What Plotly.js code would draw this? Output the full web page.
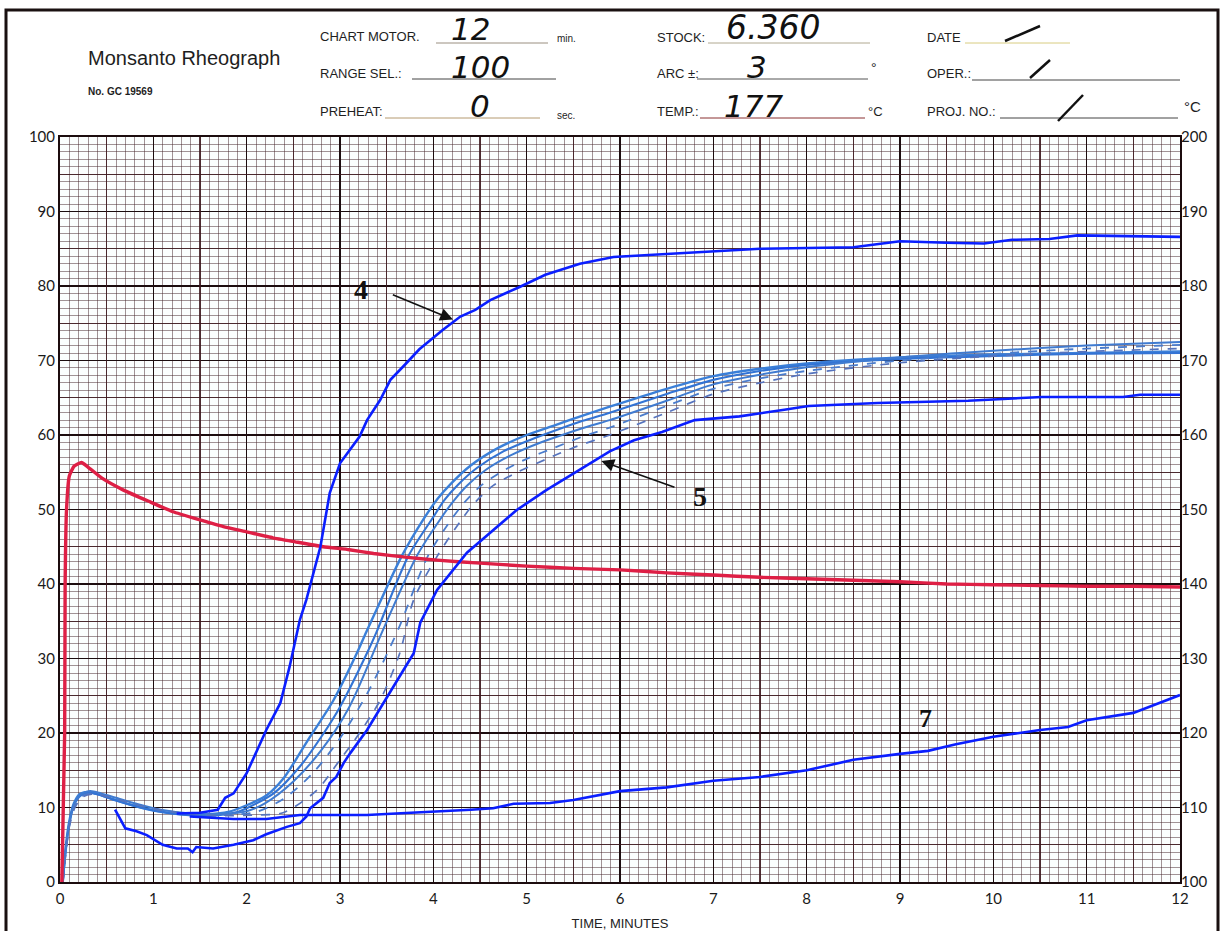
<!DOCTYPE html>
<html><head><meta charset="utf-8">
<script src="https://cdn.plot.ly/plotly-3.0.1.min.js"></script>
<style>html,body{margin:0;padding:0;background:#fff;}#chart{width:1226px;height:931px;}</style>
</head><body><div id="chart"></div>
<script>
// ---- data (minutes, torque units) ----
const redT = [0.02,0.05,0.055,0.07,0.1,0.15,0.23,0.3,0.45,0.68,0.95,1.21,1.5,1.75,2.0,2.28,2.55,2.82,3.1,3.36,3.7,4.04,4.5,5,5.5,6,6.5,7,7.5,8,8.5,9,9.5,10,10.5,11,11.5,12];
const redV = [0,20,40,50,54.5,55.8,56.3,55.7,54.2,52.6,51.1,49.7,48.6,47.7,47.0,46.2,45.6,45.0,44.6,44.1,43.6,43.2,42.8,42.4,42.1,41.9,41.5,41.2,40.9,40.7,40.5,40.3,40.0,39.9,39.8,39.7,39.7,39.6];

const c4T = [1.25,1.5,1.69,1.77,1.86,2.0,2.21,2.36,2.46,2.57,2.64,2.79,2.89,3.0,3.21,3.29,3.43,3.54,3.7,3.85,4.1,4.29,4.45,4.61,4.93,5.2,5.57,5.93,6.64,7.5,8.5,9.0,9.5,9.9,10.2,10.6,10.9,11.5,12];
const c4V = [9.2,9.3,9.7,11.3,11.9,14.6,20.4,24,28.9,35.2,37.9,45,52.2,56.2,59.8,62,64.7,67.4,69.5,71.5,74.1,75.9,76.8,78.1,79.9,81.5,83.0,83.9,84.4,85.0,85.2,86.0,85.8,85.7,86.2,86.3,86.8,86.7,86.6];

const c5T = [0.59,0.7,0.82,0.93,1.1,1.25,1.37,1.42,1.46,1.64,1.86,2.07,2.21,2.43,2.57,2.64,2.68,2.82,2.89,2.96,3.04,3.11,3.29,3.57,3.79,3.86,4.04,4.36,4.64,4.89,5.21,5.54,5.89,6.15,6.45,6.8,7.28,7.76,8.02,8.76,9.73,10.52,11.39,11.57,12];
const c5V = [9.7,7.2,6.8,6.3,5.0,4.5,4.5,4.0,4.7,4.5,5.0,5.6,6.4,7.4,7.9,8.8,9.9,11.3,13.3,14.1,16.0,17.3,20.4,26.2,30.7,34.8,39.2,44.2,47.2,49.9,52.6,55.1,57.8,59.3,60.4,62,62.5,63.4,63.9,64.3,64.6,65.1,65.1,65.4,65.4];

const c7T = [1.39,1.6,1.86,2.21,2.57,2.93,3.29,3.6,4.0,4.4,4.64,4.86,5.25,5.5,6.0,6.5,7.0,7.5,8.0,8.5,9.0,9.3,9.6,10.0,10.5,10.8,11.0,11.5,12];
const c7V = [8.8,8.6,8.45,8.45,9.0,9.0,9.0,9.2,9.4,9.7,9.9,10.5,10.6,11.0,12.2,12.7,13.6,14.1,15.0,16.4,17.2,17.6,18.5,19.5,20.4,20.8,21.7,22.7,25.1];

// repeat runs (light blue bundle)
const aT = [0.03,0.06,0.1,0.15,0.21,0.3,0.4,0.55,0.75,1.0,1.3,1.6,1.8,2.0,2.21,2.4,2.57,2.68,2.93,3.18,3.29,3.39,3.66,3.9,4.05,4.2,4.4,4.7,5.0,5.3,5.6,5.89,6.5,7,7.5,8,9,10,11,12];
const aV = [0,4.5,8.2,10.6,11.8,12.1,11.8,11.2,10.4,9.6,9.1,9.1,9.4,10.3,11.6,14,17.3,19.5,24.4,30.7,33.8,36.5,43.7,48.8,51.5,53.6,55.9,58.3,60.0,61.3,62.6,63.8,66.2,67.9,68.9,69.6,70.4,70.8,71.0,71.2];
const bT = [0.03,0.06,0.1,0.15,0.22,0.32,0.42,0.58,0.8,1.05,1.35,1.65,1.9,2.0,2.3,2.57,2.8,3.0,3.3,3.39,3.73,4.0,4.12,4.27,4.47,4.75,5.05,5.35,5.6,5.89,6.5,7,7.5,8,9,10,11,12];
const bV = [0,4,7.8,10.3,11.6,12.0,11.7,11.0,10.2,9.5,9.0,8.9,9.4,9.9,12,15.5,19.5,23.5,31,33.5,43.7,49.0,51.3,53.4,55.6,57.8,59.4,60.8,61.9,63.0,65.5,67.4,68.6,69.4,70.2,70.6,70.9,71.0];
const cT = [0.03,0.06,0.1,0.15,0.22,0.32,0.44,0.6,0.82,1.08,1.4,1.7,2.0,2.2,2.5,2.8,3.1,3.46,3.82,4.08,4.22,4.36,4.56,4.85,5.15,5.45,5.7,5.89,6.5,7,7.5,8,9,10,11,12];
const cV = [0,4.2,7.9,10.4,11.7,12.2,11.9,11.3,10.5,9.7,9.2,9.1,9.5,10.6,13.5,17.7,23.5,33.8,43.7,48.8,51.2,53.2,55.3,57.4,59.0,60.3,61.3,62.0,64.6,66.8,68.1,69.1,70.4,71.3,72.0,72.5];
const dT = [0.03,0.06,0.1,0.15,0.23,0.33,0.45,0.62,0.85,1.1,1.45,1.8,2.1,2.4,2.7,3.0,3.3,3.62,3.94,4.2,4.35,4.52,4.75,5.0,5.3,5.6,5.89,6.5,7,7.5,8,9,10,11,12];
const dV = [0,3.8,7.6,10.1,11.5,11.9,11.7,11.1,10.3,9.6,9.1,9.0,9.4,11.2,14.5,19.3,25.5,33.8,43.7,48.8,51.2,53.3,55.2,56.8,58.3,59.8,61.0,63.9,66.2,67.6,68.6,70.0,70.9,71.6,72.1];
const eT = [0.03,0.06,0.1,0.16,0.24,0.34,0.46,0.64,0.88,1.15,1.5,1.85,2.1,2.39,2.75,3.0,3.21,3.43,3.64,3.79,4.04,4.3,4.45,4.64,4.9,5.2,5.5,5.89,6.5,7,7.5,8,9,10,11,12];
const eV = [0,3.6,7.4,10,11.4,11.8,11.6,11.0,10.2,9.5,9.0,8.9,9.0,9.3,12.3,16.4,20,24.4,30.7,37.9,43.7,48.6,51.0,53.2,55.0,56.7,58.3,60.0,63.0,65.5,67.0,68.2,69.7,70.6,71.2,71.6];

const xTicks = [0,1,2,3,4,5,6,7,8,9,10,11,12];
const leftTicks = [0,10,20,30,40,50,60,70,80,90,100];
const rightTicks = [100,110,120,130,140,150,160,170,180,190,200];

// ---- helpers for page-furniture placement (pixel -> paper) ----
const L=60, R=1180, T=137, B=882;
const px = v => (v-L)/(R-L);
const py = v => (B-v)/(B-T);

const bright = '#0a1eff';
const bundleStyles = [
  {c:'#3a7fd8', w:2.4, d:'solid'},
  {c:'#3273d4', w:2.1, d:'solid'},
  {c:'#3f7bd0', w:2.0, d:'solid'},
  {c:'#4a7ccc', w:1.8, d:'dash'},
  {c:'#5573bd', w:1.7, d:'dash'}
];
const bundle = [[aT,aV],[bT,bV],[cT,cV],[dT,dV],[eT,eV]];

const traces = [];
bundle.forEach((b,i)=>{
  traces.push({x:b[0], y:b[1], type:'scatter', mode:'lines', xaxis:'x', yaxis:'y',
    line:{color:bundleStyles[i].c, width:bundleStyles[i].w, dash:bundleStyles[i].d, shape:'spline', smoothing:0.8},
    hoverinfo:'skip', showlegend:false});
});
traces.push({x:redT, y:redV, type:'scatter', mode:'lines', line:{color:'#de1f45', width:3.4, shape:'spline', smoothing:0.4}, showlegend:false, hoverinfo:'skip'});
traces.push({x:c7T, y:c7V, type:'scatter', mode:'lines', line:{color:bright, width:2.6}, showlegend:false, hoverinfo:'skip'});
traces.push({x:c5T, y:c5V, type:'scatter', mode:'lines', line:{color:bright, width:2.6}, showlegend:false, hoverinfo:'skip'});
traces.push({x:c4T, y:c4V, type:'scatter', mode:'lines', line:{color:bright, width:2.6}, showlegend:false, hoverinfo:'skip'});
// empty traces that register the right-hand axis and the half-step grid axes
traces.push({x:[], y:[], xaxis:'x', yaxis:'y2', type:'scatter', showlegend:false});
traces.push({x:[], y:[], xaxis:'x2', yaxis:'y3', type:'scatter', showlegend:false});

const tickFont = {family:'Lato, "DejaVu Sans", sans-serif', size:15, color:'#1a1a1a'};
const minorCol = 'rgba(70,38,44,0.5)';
const halfCol = 'rgba(60,22,28,0.85)';
const majorCol = '#1c0c0e';

const header = [
  {t:'Monsanto Rheograph', x:86, y:58, s:20, f:'Liberation Sans'},
  {t:'<b>No. GC 19569</b>', x:86, y:92, s:10, f:'Liberation Sans'},
  {t:'CHART MOTOR.', x:318, y:37, s:13, f:'Liberation Sans'},
  {t:'RANGE SEL.:', x:318, y:73, s:13, f:'Liberation Sans'},
  {t:'PREHEAT:', x:318, y:112, s:13, f:'Liberation Sans'},
  {t:'min.', x:555, y:39, s:10, f:'Liberation Sans'},
  {t:'sec.', x:555, y:115, s:10, f:'Liberation Sans'},
  {t:'STOCK:', x:655, y:38, s:13, f:'Liberation Sans'},
  {t:'ARC \u00b1:', x:655, y:73, s:13, f:'Liberation Sans'},
  {t:'TEMP.:', x:655, y:112, s:13, f:'Liberation Sans'},
  {t:'\u00b0', x:869, y:68, s:14, f:'Liberation Sans'},
  {t:'\u00b0C', x:866, y:112, s:13, f:'Liberation Sans'},
  {t:'DATE', x:925, y:38, s:13, f:'Liberation Sans'},
  {t:'OPER.:', x:925, y:74, s:13, f:'Liberation Sans'},
  {t:'PROJ. NO.:', x:925, y:112, s:13, f:'Liberation Sans'},
  {t:'\u00b0C', x:1182, y:106, s:15, f:'Liberation Sans'}
];
const hand = [
  {t:'12', x:449, y:29, s:31},
  {t:'100', x:449, y:67, s:31},
  {t:'0', x:468, y:106, s:31},
  {t:'6.360', x:724, y:28, s:33},
  {t:'3', x:745, y:67, s:31},
  {t:'177', x:722, y:106, s:31}
];

const annotations = [];
header.forEach(h=>annotations.push({xref:'paper', yref:'paper', x:px(h.x), y:py(h.y), xanchor:'left', yanchor:'middle',
  text:h.t, showarrow:false, font:{family:h.f, size:h.s, color:'#1e1e1e'}}));
hand.forEach(h=>annotations.push({xref:'paper', yref:'paper', x:px(h.x), y:py(h.y), xanchor:'left', yanchor:'middle',
  text:h.t, showarrow:false, font:{family:'"DejaVu Sans", sans-serif', size:h.s, color:'#111', style:'italic', weight:400}}));

// curve labels
annotations.push({x:4.23, y:75.4, ax:3.55, ay:78.9, xref:'x', yref:'y', axref:'x', ayref:'y', text:'', showarrow:true,
  arrowhead:2, arrowsize:1.6, arrowwidth:1.6, arrowcolor:'#111', standoff:2});
annotations.push({x:3.22, y:79.5, xref:'x', yref:'y', text:'<b>4</b>', showarrow:false, font:{family:'"Liberation Serif", serif', size:28, color:'#111'}});
annotations.push({x:5.78, y:56.6, ax:6.6, ay:52.9, xref:'x', yref:'y', axref:'x', ayref:'y', text:'', showarrow:true,
  arrowhead:2, arrowsize:1.6, arrowwidth:1.6, arrowcolor:'#111', standoff:2});
annotations.push({x:6.86, y:51.8, xref:'x', yref:'y', text:'<b>5</b>', showarrow:false, font:{family:'"Liberation Serif", serif', size:28, color:'#111'}});
annotations.push({x:9.27, y:22.0, xref:'x', yref:'y', text:'<b>7</b>', showarrow:false, font:{family:'"Liberation Serif", serif', size:26, color:'#111'}});

const shapes = [];
const uline = (x0,x1,y,c)=>shapes.push({type:'line', xref:'paper', yref:'paper', x0:px(x0), x1:px(x1), y0:py(y), y1:py(y), line:{color:c||'#6a5a4a', width:1}});
uline(436,548,43,'#9a8f80'); uline(412,556,79,'#444'); uline(385,540,118,'#b59a70');
uline(708,870,43,'#b0a890'); uline(697,868,79,'#555'); uline(700,865,118,'#8a3030');
uline(965,1070,43,'#d8cc80'); uline(972,1180,80,'#444'); uline(1000,1178,118,'#444');
const slash = (x0,y0,x1,y1)=>shapes.push({type:'line', xref:'paper', yref:'paper', x0:px(x0), x1:px(x1), y0:py(y0), y1:py(y1), line:{color:'#111', width:2.5}});
slash(1005,41,1040,26); slash(1030,78,1050,60); slash(1058,121,1083,95);
// outer frame of the form
shapes.push({type:'rect', xref:'paper', yref:'paper', x0:px(6), x1:px(1218), y0:py(960), y1:py(10), line:{color:'#1a1010', width:3}, fillcolor:'rgba(0,0,0,0)', layer:'below'});

const layout = {
  width:1226, height:931,
  margin:{l:L, r:1226-R, t:T, b:931-B},
  paper_bgcolor:'#ffffff', plot_bgcolor:'#fbfefe',
  showlegend:false,
  xaxis:{range:[0,12], tickvals:xTicks, ticktext:xTicks.map(String), tickfont:tickFont, ticks:'', ticklabelstandoff:2,
    showgrid:true, gridcolor:majorCol, gridwidth:1.6, zeroline:false,
    minor:{dtick:0.1, showgrid:true, gridcolor:minorCol, gridwidth:1},
    showline:true, mirror:true, linecolor:majorCol, linewidth:2,
    title:{text:'TIME, MINUTES', font:{family:'Liberation Sans', size:13, color:'#222'}, standoff:13}},
  yaxis:{range:[0,100], tickvals:leftTicks, ticktext:leftTicks.map(String), tickfont:tickFont, ticks:'',
    showgrid:true, gridcolor:majorCol, gridwidth:1.6, zeroline:false,
    minor:{dtick:1, showgrid:true, gridcolor:minorCol, gridwidth:1},
    showline:true, mirror:true, linecolor:majorCol, linewidth:2},
  yaxis2:{range:[100,200], overlaying:'y', side:'right', tickvals:rightTicks, ticktext:rightTicks.map(String), tickfont:tickFont,
    ticks:'', showgrid:false, zeroline:false, showline:false},
  xaxis2:{range:[0,12], overlaying:'x', tick0:0.5, dtick:1, showticklabels:false, ticks:'', showgrid:true, gridcolor:halfCol, gridwidth:1.2, zeroline:false, showline:false},
  yaxis3:{range:[0,100], overlaying:'y', tick0:5, dtick:10, showticklabels:false, ticks:'', showgrid:true, gridcolor:halfCol, gridwidth:1.2, zeroline:false, showline:false},
  annotations:annotations,
  shapes:shapes
};
Plotly.newPlot('chart', traces, layout, {displayModeBar:false, staticPlot:true});
</script>
</body></html>
